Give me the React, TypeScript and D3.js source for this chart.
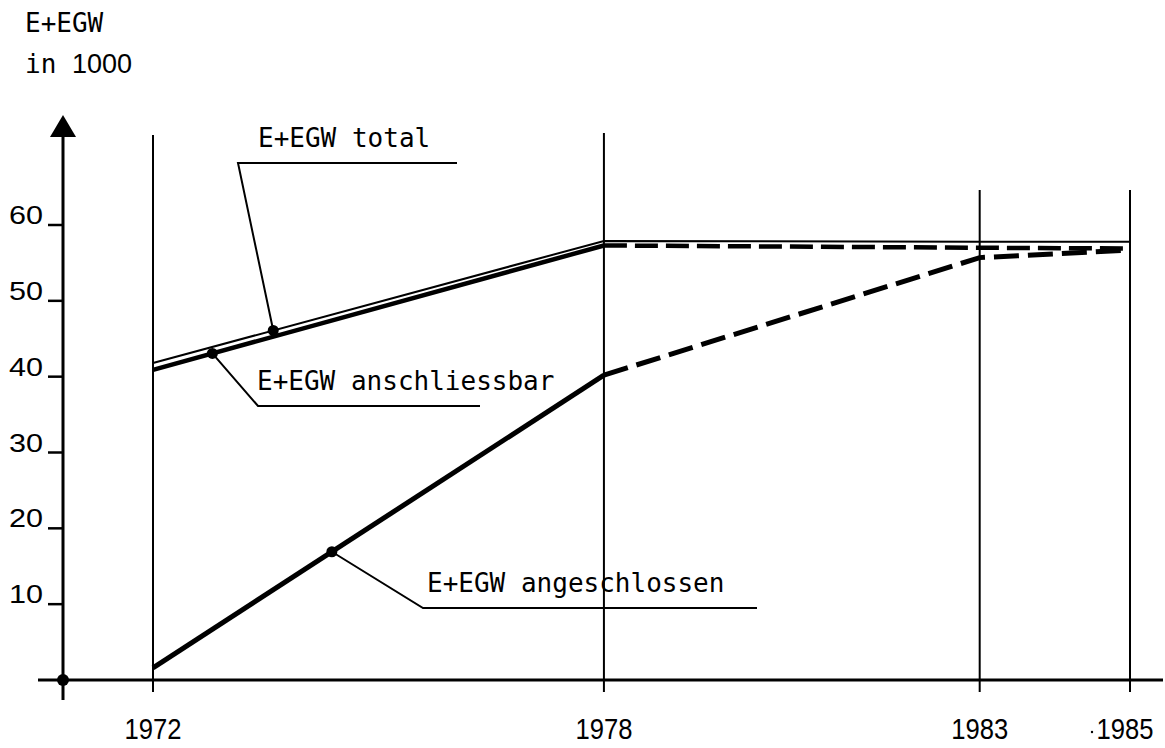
import * as d3 from "d3";
import React from "react";

// values (thousands of E+EGW)
const years = [1972, 1978, 1983, 1985];
const total = [41.8, 57.9, 57.8, 57.8];
const anschliessbar = [40.9, 57.3, 57.0, 56.9];
const angeschlossen = [1.6, 40.2, 55.7, 56.7];
const yTicks = [10, 20, 30, 40, 50, 60];

// where the callout dots sit on each line
const calloutYears = { total: 1973.6, anschliessbar: 1972.79, angeschlossen: 1974.38 };

const width = 1165;
const height = 748;
const mono = "'DejaVu Sans Mono', monospace";
const sans = "'Liberation Sans', Arial, sans-serif";

function valueAt(series: number[], yr: number) {
  for (let i = 0; i < years.length - 1; i++) {
    if (yr >= years[i] && yr <= years[i + 1]) {
      const t = (yr - years[i]) / (years[i + 1] - years[i]);
      return d3.interpolateNumber(series[i], series[i + 1])(t);
    }
  }
  return series[series.length - 1];
}

export default function App() {
  const x = d3.scaleLinear([1972, 1985], [153, 1130]);
  const y = d3.scaleLinear([0, 60], [680, 225]);
  const x0 = 63;
  const y0 = y(0);

  const pts = (s: number[]) => years.map((yr, i) => [x(yr), y(s[i])] as [number, number]);
  const line = d3.line();

  const totalPts = pts(total);
  const anPts = pts(anschliessbar);
  const agPts = pts(angeschlossen);

  const vTop: Record<number, number> = { 1972: 135, 1978: 133, 1983: 190, 1985: 190 };

  const dTotal: [number, number] = [x(calloutYears.total), y(valueAt(total, calloutYears.total))];
  const dAn: [number, number] = [x(calloutYears.anschliessbar), y(valueAt(anschliessbar, calloutYears.anschliessbar))];
  const dAg: [number, number] = [x(calloutYears.angeschlossen), y(valueAt(angeschlossen, calloutYears.angeschlossen))];

  return (
    <svg width={width} height={height} style={{ position: "absolute", left: 0, top: 0, background: "#fff" }}>
      {/* axis title */}
      <text x={25} y={32} fontFamily={mono} fontSize={26}>E+EGW</text>
      <text x={25} y={73} fontFamily={mono} fontSize={26}>in</text>
      <text x={72} y={73} fontFamily={sans} fontSize={27}>1000</text>

      {/* year verticals */}
      {years.map((yr) => (
        <line key={yr} x1={x(yr)} x2={x(yr)} y1={vTop[yr]} y2={y0 + 12} stroke="#000" strokeWidth={2} />
      ))}

      {/* axes */}
      <line x1={38} x2={1163} y1={y0} y2={y0} stroke="#000" strokeWidth={3} />
      <line x1={x0} x2={x0} y1={135} y2={700} stroke="#000" strokeWidth={3} />
      <path d={`M${x0},115 L${x0 - 13},137 L${x0 + 13},137 Z`} fill="#000" />
      <circle cx={x0} cy={y0} r={6} fill="#000" />

      {yTicks.map((t) => (
        <g key={t}>
          <line x1={48} x2={x0} y1={y(t)} y2={y(t)} stroke="#000" strokeWidth={2.5} />
          <text x={43} y={y(t) - 1} textAnchor="end" fontFamily={sans} fontSize={26}
            textLength={34} lengthAdjust="spacingAndGlyphs">{t}</text>
        </g>
      ))}

      {years.map((yr, i) => (
        <text key={yr} x={x(yr) - (i === years.length - 1 ? 5 : 0)} y={739} textAnchor="middle"
          fontFamily={sans} fontSize={30} textLength={57} lengthAdjust="spacingAndGlyphs">{yr}</text>
      ))}
      <circle cx={1092} cy={732} r={1.2} fill="#000" />

      {/* total: thin solid */}
      <path d={line(totalPts) || ""} fill="none" stroke="#000" strokeWidth={2} />
      {/* anschliessbar: thick solid then dashed */}
      <path d={line(anPts.slice(0, 2)) || ""} fill="none" stroke="#000" strokeWidth={4.5} />
      <path d={line(anPts.slice(1)) || ""} fill="none" stroke="#000" strokeWidth={4.5} strokeDasharray="23 8" />
      {/* angeschlossen: thick solid then dashed */}
      <path d={line(agPts.slice(0, 2)) || ""} fill="none" stroke="#000" strokeWidth={5} />
      <path d={line(agPts.slice(1)) || ""} fill="none" stroke="#000" strokeWidth={5} strokeDasharray="25 9" />

      {/* callouts */}
      <g stroke="#000" strokeWidth={2} fill="none">
        <polyline points={`${dTotal[0]},${dTotal[1]} 238,163 457,163`} />
        <polyline points={`${dAn[0]},${dAn[1]} 258,406 480,406`} />
        <polyline points={`${dAg[0]},${dAg[1]} 423,608 757,608`} />
      </g>
      <circle cx={dTotal[0]} cy={dTotal[1]} r={5.5} fill="#000" />
      <circle cx={dAn[0]} cy={dAn[1]} r={5.5} fill="#000" />
      <circle cx={dAg[0]} cy={dAg[1]} r={5.5} fill="#000" />

      <text x={258} y={147} fontFamily={mono} fontSize={26}>E+EGW total</text>
      <text x={257} y={390} fontFamily={mono} fontSize={26}>E+EGW anschliessbar</text>
      <text x={427} y={592} fontFamily={mono} fontSize={26}>E+EGW angeschlossen</text>
    </svg>
  );
}
